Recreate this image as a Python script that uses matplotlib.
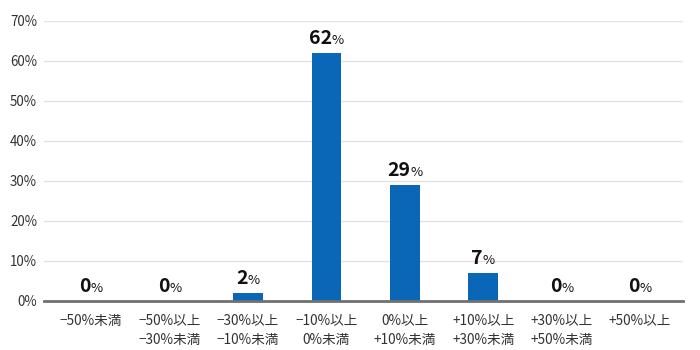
import matplotlib

matplotlib.use("Agg")

import matplotlib.pyplot as plt
from matplotlib.offsetbox import AnnotationBbox, HPacker, TextArea

plt.rcParams["font.family"] = ["Noto Sans CJK JP", "DejaVu Sans"]

categories = [
    "\u221250%未満",
    "\u221250%以上\n\u221230%未満",
    "\u221230%以上\n\u221210%未満",
    "\u221210%以上\n0%未満",
    "0%以上\n+10%未満",
    "+10%以上\n+30%未満",
    "+30%以上\n+50%未満",
    "+50%以上",
]
shares = [0, 0, 2, 62, 29, 7, 0, 0]
y_ticks = [0, 10, 20, 30, 40, 50, 60, 70]

bar_color = "#0a67b8"

fig = plt.figure(figsize=(7, 3.5), dpi=100)
ax = fig.add_axes([0.063, 0.14, 0.913, 0.80])

x = list(range(len(categories)))
ax.bar(x, shares, width=0.38, color=bar_color, zorder=3)

ax.set_xlim(-0.6, 7.55)
ax.set_ylim(0, 70)
ax.set_yticks(y_ticks)
ax.set_yticklabels([f"{t}%" for t in y_ticks], fontsize=9.6, color="#333333")
ax.set_xticks(x)
ax.set_xticklabels(categories, fontsize=9.8, color="#333333", linespacing=1.5)
ax.tick_params(axis="both", length=0)
ax.tick_params(axis="x", pad=9)
ax.tick_params(axis="y", pad=5)

ax.grid(axis="y", color="#e3e3e3", linewidth=1, zorder=0)
for side in ("top", "right", "left"):
    ax.spines[side].set_visible(False)
ax.spines["bottom"].set_color("#707070")
ax.spines["bottom"].set_linewidth(2)
ax.spines["bottom"].set_zorder(4)

for xi, v in zip(x, shares):
    num = TextArea(str(v), textprops=dict(fontsize=14, fontweight="bold", color="#111111"))
    pct = TextArea("%", textprops=dict(fontsize=9.5, color="#111111"))
    box = HPacker(children=[num, pct], align="baseline", pad=0, sep=0)
    ab = AnnotationBbox(
        box,
        (xi, v),
        xybox=(0, 3.5),
        xycoords="data",
        boxcoords="offset points",
        box_alignment=(0.5, 0.0),
        frameon=False,
        pad=0,
    )
    ax.add_artist(ab)

fig.savefig("out.png", dpi=100)
